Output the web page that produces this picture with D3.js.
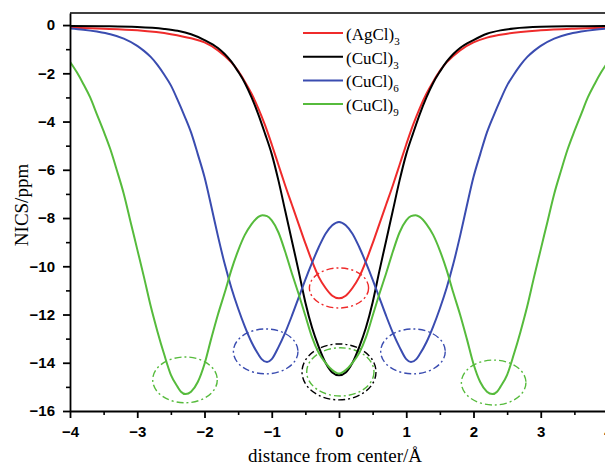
<!DOCTYPE html>
<html>
<head>
<meta charset="utf-8">
<script src="https://cdn.jsdelivr.net/npm/d3@7"></script>
<style>
  body { margin: 0; background: #fff; }
  svg { display: block; }
</style>
</head>
<body>
<script>
// NICS scans along the axis through the ring centre (distance in Å, NICS in ppm)
const distAgCl3 = [-4,-3.5,-3,-2.5,-2.2,-2,-1.8,-1.6,-1.5,-1.4,-1.3,-1.2,-1.1,-1,-0.9,-0.8,-0.7,-0.6,-0.5,-0.4,-0.3,-0.2,-0.1,0,
  0.1,0.2,0.3,0.4,0.5,0.6,0.7,0.8,0.9,1,1.1,1.2,1.3,1.4,1.5,1.6,1.8,2,2.2,2.5,3,3.5,4];
const nicsAgCl3 = [-0.11,-0.15,-0.22,-0.38,-0.55,-0.72,-1.05,-1.55,-1.9,-2.35,-2.85,-3.45,-4.15,-4.95,-5.8,-6.65,-7.45,-8.25,-9.05,-9.8,-10.45,-10.9,-11.22,-11.33,
  -11.22,-10.9,-10.45,-9.8,-9.05,-8.25,-7.45,-6.65,-5.8,-4.95,-4.15,-3.45,-2.85,-2.35,-1.9,-1.55,-1.05,-0.72,-0.52,-0.36,-0.22,-0.15,-0.11];

const distCuCl3 = [-4,-3.5,-3,-2.6,-2.4,-2.2,-2,-1.8,-1.7,-1.6,-1.5,-1.4,-1.3,-1.2,-1.1,-1,-0.9,-0.8,-0.7,-0.6,-0.5,-0.4,-0.3,-0.2,-0.1,0,
  0.1,0.2,0.3,0.4,0.5,0.6,0.7,0.8,0.9,1,1.1,1.2,1.3,1.4,1.5,1.6,1.7,1.8,2,2.2,2.4,2.6,3,3.5,4];
const nicsCuCl3 = [-0.04,-0.05,-0.08,-0.16,-0.24,-0.38,-0.62,-0.95,-1.2,-1.52,-1.93,-2.4,-3.0,-3.7,-4.5,-5.35,-6.45,-7.7,-8.95,-10.2,-11.5,-12.55,-13.35,-14.0,-14.4,-14.52,
  -14.4,-14.0,-13.35,-12.55,-11.5,-10.2,-8.95,-7.7,-6.45,-5.35,-4.5,-3.7,-3.0,-2.4,-1.93,-1.52,-1.2,-0.95,-0.62,-0.36,-0.22,-0.14,-0.07,-0.05,-0.04];

const distCuCl6 = [-4,-3.8,-3.6,-3.4,-3.2,-3,-2.9,-2.8,-2.7,-2.6,-2.5,-2.4,-2.3,-2.2,-2.1,-2,-1.9,-1.8,-1.7,-1.6,-1.5,-1.4,-1.3,-1.2,-1.15,-1.07,
  -1,-0.9,-0.8,-0.7,-0.6,-0.5,-0.4,-0.3,-0.2,-0.1,0,0.1,0.2,0.3,0.4,0.5,0.6,0.7,0.8,0.9,1,
  1.07,1.15,1.2,1.3,1.4,1.5,1.6,1.7,1.8,1.9,2,2.1,2.2,2.3,2.4,2.5,2.6,2.7,2.8,2.9,3,3.2,3.4,3.6,3.8,4];
const nicsCuCl6 = [-0.14,-0.19,-0.27,-0.38,-0.56,-0.86,-1.07,-1.32,-1.65,-2.05,-2.5,-3.1,-3.75,-4.45,-5.35,-6.3,-7.5,-8.75,-9.9,-10.9,-11.75,-12.5,-13.15,-13.65,-13.85,-13.97,
  -13.85,-13.35,-12.75,-12.05,-11.3,-10.55,-9.85,-9.2,-8.65,-8.3,-8.16,-8.3,-8.65,-9.2,-9.85,-10.55,-11.3,-12.05,-12.75,-13.35,-13.85,
  -13.97,-13.85,-13.65,-13.15,-12.5,-11.75,-10.9,-9.9,-8.75,-7.5,-6.3,-5.35,-4.45,-3.75,-3.1,-2.5,-2.05,-1.65,-1.32,-1.07,-0.86,-0.56,-0.38,-0.27,-0.19,-0.14];

const distCuCl9 = [-4,-3.9,-3.8,-3.7,-3.6,-3.5,-3.4,-3.3,-3.2,-3.1,-3,-2.9,-2.8,-2.7,-2.6,-2.5,-2.4,-2.35,-2.28,
  -2.2,-2.1,-2,-1.9,-1.8,-1.7,-1.6,-1.5,-1.4,-1.3,-1.2,-1.14,-1.07,-1,-0.9,-0.8,-0.7,-0.6,-0.5,-0.4,-0.3,-0.2,-0.1,0,
  0.1,0.2,0.3,0.4,0.5,0.6,0.7,0.8,0.9,1,1.07,1.14,1.2,1.3,1.4,1.5,1.6,1.7,1.8,1.9,2,2.1,2.2,
  2.28,2.35,2.4,2.5,2.6,2.7,2.8,2.9,3,3.1,3.2,3.3,3.4,3.5,3.6,3.7,3.8,3.9,4];
const nicsCuCl9 = [-1.52,-1.95,-2.45,-3.0,-3.7,-4.4,-5.15,-6.05,-7.0,-8.15,-9.3,-10.45,-11.65,-12.7,-13.65,-14.5,-15.0,-15.2,-15.3,
  -15.2,-14.8,-14.05,-13.0,-12.0,-11.1,-10.15,-9.35,-8.7,-8.25,-7.95,-7.88,-7.92,-8.1,-8.6,-9.4,-10.3,-11.15,-12.05,-12.95,-13.6,-14.0,-14.3,-14.45,
  -14.3,-14.0,-13.6,-12.95,-12.05,-11.15,-10.3,-9.4,-8.6,-8.1,-7.92,-7.88,-7.95,-8.25,-8.7,-9.35,-10.15,-11.1,-12.0,-13.0,-14.05,-14.8,-15.2,
  -15.3,-15.2,-15.0,-14.5,-13.65,-12.7,-11.65,-10.45,-9.3,-8.15,-7.0,-6.05,-5.15,-4.4,-3.7,-3.0,-2.45,-1.95,-1.52];

// Legend names (formula + subscript) and colours
const seriesNames = ["(AgCl)", "(CuCl)", "(CuCl)", "(CuCl)"];
const seriesSubs = ["3", "3", "6", "9"];
const seriesColors = ["#ef2b2b", "#000000", "#3a4cb0", "#56bb3c"];

// Dash-dot rings marking the minima / centre values (data units)
const ringSeries = [0, 2, 2, 1, 3, 3, 3];
const ringX  = [0, -1.09, 1.10, 0, 0.02, -2.29, 2.30];
const ringY  = [-10.9, -13.53, -13.53, -14.38, -14.38, -14.71, -14.82];
const ringRx = [0.44, 0.48, 0.48, 0.55, 0.50, 0.48, 0.48];
const ringRy = [0.83, 0.93, 0.93, 1.16, 1.00, 0.95, 0.93];

// Axis ticks
const xMajor = [-4, -3, -2, -1, 0, 1, 2, 3, 4];
const xMinor = [-3.5, -2.5, -1.5, -0.5, 0.5, 1.5, 2.5, 3.5];
const yMajor = [0, -2, -4, -6, -8, -10, -12, -14, -16];
const yMinor = [-1, -3, -5, -7, -9, -11, -13, -15];

const W = 605, H = 469;
const M = { left: 70, right: 608, top: 13, bottom: 411 };

const svg = d3.select("body").append("svg").attr("width", W).attr("height", H);

const x = d3.scaleLinear().domain([-4, 4]).range([M.left, M.right]);
const y = d3.scaleLinear().domain([-16, 0.5]).range([M.bottom, M.top]);

svg.append("defs").append("clipPath").attr("id", "plot")
  .append("rect").attr("x", M.left).attr("y", M.top)
  .attr("width", M.right - M.left).attr("height", M.bottom - M.top);

const series = [
  { d: distAgCl3, v: nicsAgCl3 },
  { d: distCuCl3, v: nicsCuCl3 },
  { d: distCuCl6, v: nicsCuCl6 },
  { d: distCuCl9, v: nicsCuCl9 }
];

const line = d3.line().x(p => x(p[0])).y(p => y(p[1])).curve(d3.curveMonotoneX);

const plot = svg.append("g").attr("clip-path", "url(#plot)");

// rings
plot.selectAll("ellipse.ring").data(ringX.map((cx, i) => i)).join("ellipse")
  .attr("class", "ring")
  .attr("cx", i => x(ringX[i]))
  .attr("cy", i => y(ringY[i]))
  .attr("rx", i => x(ringX[i] + ringRx[i]) - x(ringX[i]))
  .attr("ry", i => y(ringY[i] - ringRy[i]) - y(ringY[i]))
  .attr("fill", "none")
  .attr("stroke", i => seriesColors[ringSeries[i]])
  .attr("stroke-width", 1.4)
  .attr("stroke-dasharray", "7,3,2,3");

// curves
series.forEach((s, i) => {
  plot.append("path")
    .datum(s.d.map((dv, k) => [dv, s.v[k]]))
    .attr("d", line)
    .attr("fill", "none")
    .attr("stroke", seriesColors[i])
    .attr("stroke-width", 2)
    .attr("stroke-linejoin", "round");
});

const tickFont = g => g.selectAll("text")
  .attr("font-family", "'Liberation Sans', Arial, sans-serif")
  .attr("font-weight", "bold")
  .attr("font-size", 15)
  .attr("fill", "#000");

// bottom axis
svg.append("g").attr("transform", `translate(0,${M.bottom})`)
  .call(d3.axisBottom(x).tickValues(xMinor).tickSize(4).tickSizeOuter(0).tickFormat(""))
  .call(g => g.select(".domain").remove())
  .call(g => g.selectAll("line").attr("stroke-width", 1.6));
svg.append("g").attr("transform", `translate(0,${M.bottom})`)
  .call(d3.axisBottom(x).tickValues(xMajor).tickSize(7).tickSizeOuter(0).tickPadding(8).tickFormat(d3.format("d")))
  .call(tickFont)
  .call(g => g.select(".domain").attr("stroke-width", 1.8))
  .call(g => g.selectAll("line").attr("stroke-width", 1.8));

// left axis
svg.append("g").attr("transform", `translate(${M.left},0)`)
  .call(d3.axisLeft(y).tickValues(yMinor).tickSize(4).tickSizeOuter(0).tickFormat(""))
  .call(g => g.select(".domain").remove())
  .call(g => g.selectAll("line").attr("stroke-width", 1.6));
svg.append("g").attr("transform", `translate(${M.left},0)`)
  .call(d3.axisLeft(y).tickValues(yMajor).tickSize(7).tickSizeOuter(0).tickPadding(8).tickFormat(d3.format("d")))
  .call(tickFont)
  .call(g => g.select(".domain").attr("stroke-width", 1.8))
  .call(g => g.selectAll("line").attr("stroke-width", 1.8));

// top and right frame
svg.append("path")
  .attr("d", `M${M.left},${M.top}H${M.right}V${M.bottom}`)
  .attr("fill", "none").attr("stroke", "#000").attr("stroke-width", 1.6);

// axis titles
svg.append("text")
  .attr("x", (x(-4) + x(4)) / 2 - 4).attr("y", 462)
  .attr("text-anchor", "middle")
  .attr("font-family", "'Liberation Serif', 'Times New Roman', serif")
  .attr("font-size", 19)
  .text("distance from center/Å");

svg.append("text")
  .attr("transform", "translate(28,205) rotate(-90)")
  .attr("text-anchor", "middle")
  .attr("font-family", "'Liberation Serif', 'Times New Roman', serif")
  .attr("font-size", 19)
  .text("NICS/ppm");

// legend
const legend = svg.append("g").attr("transform", "translate(303,33)");
seriesNames.forEach((name, i) => {
  const row = legend.append("g").attr("transform", `translate(0,${i * 23.7})`);
  row.append("line").attr("x1", 0).attr("x2", 40).attr("y1", 0).attr("y2", 0)
    .attr("stroke", seriesColors[i]).attr("stroke-width", 2);
  const t = row.append("text").attr("x", 43).attr("y", 7)
    .attr("font-family", "'Liberation Serif', 'Times New Roman', serif")
    .attr("font-size", 17);
  t.append("tspan").text(name);
  t.append("tspan").attr("font-size", 11).attr("dy", 5).text(seriesSubs[i]);
});
</script>
</body>
</html>
